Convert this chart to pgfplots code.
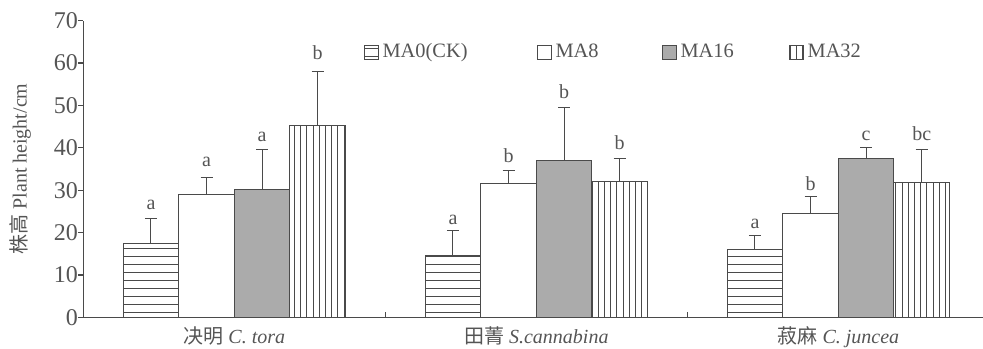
\documentclass[border=0pt]{standalone}
\usepackage{fontspec}
\setmainfont{Liberation Serif}
\newfontfamily\cjk{Noto Sans CJK SC}
\usepackage{pgfplots}
\pgfplotsset{compat=1.18}
\usetikzlibrary{patterns}
\definecolor{ink}{HTML}{4A4A4A}
\definecolor{txt}{HTML}{555555}
\definecolor{barfill}{HTML}{ABABAB}
\pgfdeclarepatternformonly{hlines4}{\pgfpoint{-1pt}{0pt}}{\pgfpoint{200pt}{4pt}}{\pgfpoint{200pt}{4pt}}{%
  \pgfsetlinewidth{0.45pt}\pgfpathmoveto{\pgfpoint{-1pt}{2pt}}\pgfpathlineto{\pgfpoint{201pt}{2pt}}\pgfusepath{stroke}}
\pgfdeclarepatternformonly{vlines3}{\pgfpoint{0pt}{-1pt}}{\pgfpoint{3.1pt}{300pt}}{\pgfpoint{3.1pt}{300pt}}{%
  \pgfsetlinewidth{0.45pt}\pgfpathmoveto{\pgfpoint{1.55pt}{-1pt}}\pgfpathlineto{\pgfpoint{1.55pt}{301pt}}\pgfusepath{stroke}}
\pgfplotsset{
  mybar/.style={ybar, bar width=0.184, bar shift=0pt, draw=ink, line width=0.5pt,
    error bars/y dir=plus, error bars/y explicit,
    error bars/error bar style={ink, line width=0.5pt, solid},
    error bars/error mark options={ink, line width=0.5pt, mark size=3pt, rotate=90, solid}},
  mylegend/.style={legend image code/.code={\draw[##1, line width=0.5pt] (0pt,-3.5pt) rectangle (7pt,3.5pt);}},
}
\begin{document}
\begin{tikzpicture}
\begin{axis}[
  scale only axis, width=450pt, height=148.3pt,
  xmin=-0.5, xmax=2.48, ymin=0, ymax=70,
  axis lines*=left,
  axis line style={ink, line width=0.6pt},
  ytick={0,10,...,70},
  tick align=outside,
  major tick length=2.5pt,
  tick style={ink, line width=0.6pt},
  xtick={0,1,2},
  xticklabels={{{\cjk 决明}~\textit{C. tora}}, {{\cjk 田菁}~\textit{S.cannabina}}, {{\cjk 菽麻}~\textit{C. juncea}}},
  x tick style={draw=none},
  extra x ticks={0.5,1.5},
  extra x tick labels={},
  extra x tick style={tick align=inside, x tick style={draw=ink}},
  /pgf/number format/assume math mode=true,
  yticklabel style={font=\fontsize{12}{14}\selectfont, text=txt, inner sep=0pt},
  xticklabel style={font=\fontsize{10}{12}\selectfont, text=txt, yshift=1.5pt},
  ylabel={{\cjk 株高}~Plant height/cm},
  ylabel style={font=\fontsize{10}{12}\selectfont, text=txt, at={(axis description cs:-0.07,0.5)}, anchor=center, rotate=0},
  legend columns=4,
  legend style={draw=none, fill=none, at={(axis description cs:0.311,0.894)}, anchor=west,
    font=\fontsize{10.2}{12}\selectfont, text=txt, inner sep=0pt,
    /tikz/every even column/.append style={column sep=0pt}},
  legend cell align=left,
]
\coordinate (BL) at (rel axis cs:0,0);
\addplot[mybar, pattern=hlines4, pattern color=ink, mylegend]
  coordinates {(-0.276,17.3) +- (0,6.1) (0.724,14.7) +- (0,5.7) (1.724,16.0) +- (0,3.3)};
\addplot[mybar, fill=white, mylegend]
  coordinates {(-0.092,29.0) +- (0,4.0) (0.908,31.6) +- (0,3.0) (1.908,24.5) +- (0,4.1)};
\addplot[mybar, fill=barfill, mylegend]
  coordinates {(0.092,30.2) +- (0,9.3) (1.092,37.0) +- (0,12.6) (2.092,37.5) +- (0,2.6)};
\addplot[mybar, pattern=vlines3, pattern color=ink, mylegend]
  coordinates {(0.276,45.2) +- (0,12.8) (1.276,32.1) +- (0,5.4) (2.276,31.7) +- (0,7.8)};
\legend{\makebox[75pt][l]{MA0(CK)}, \makebox[51pt][l]{MA8}, \makebox[52pt][l]{MA16}, MA32}
\addplot[draw=none, mark=none, forget plot, point meta=explicit symbolic, nodes near coords,
  nodes near coords style={inner sep=0pt, anchor=south, font=\fontsize{10}{12}\selectfont, text=txt}]
  coordinates {(-0.276,25.3)[a] (-0.092,35.5)[a] (0.092,41.4)[a] (0.276,60.7)[b]
               (0.724,21.8)[a] (0.908,36.5)[b] (1.092,51.6)[b] (1.276,39.5)[b]
               (1.724,20.8)[a] (1.908,29.9)[b] (2.092,41.7)[c] (2.276,41.7)[bc]};
\end{axis}
\pgfresetboundingbox
\path (BL) ++(-41.65pt,-15.35pt) rectangle ++(491.5pt,174pt);
\end{tikzpicture}
\end{document}
